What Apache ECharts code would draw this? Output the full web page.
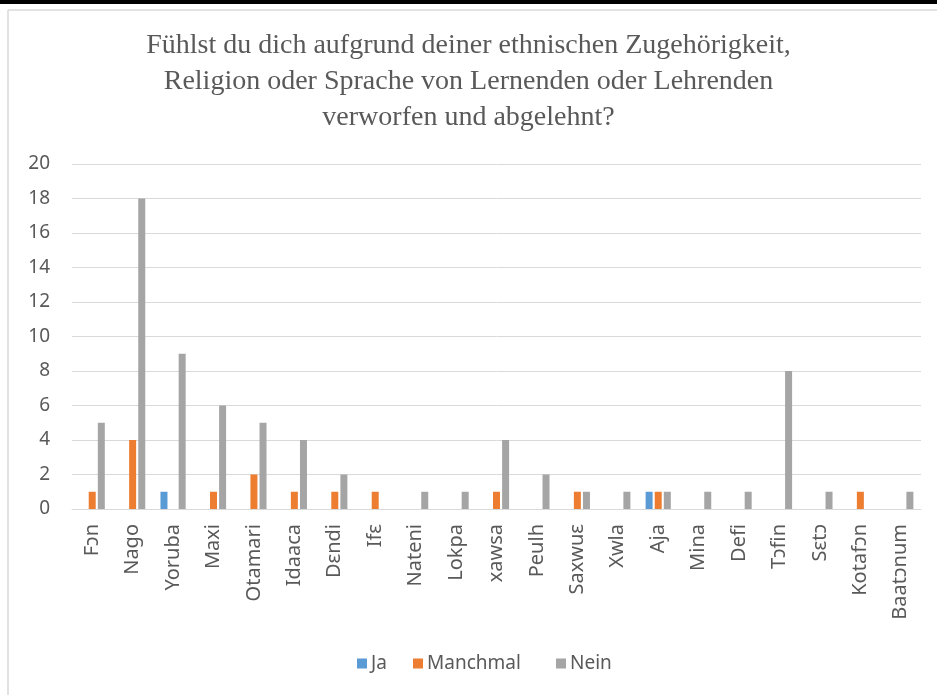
<!DOCTYPE html>
<html>
<head>
<meta charset="utf-8">
<script src="https://cdn.jsdelivr.net/npm/echarts@6/dist/echarts.min.js"></script>
<style>
  html, body { margin: 0; padding: 0; background: #fff; }
  #main { width: 937px; height: 695px; }
</style>
</head>
<body>
<div id="main"></div>
<script>
// Daten aus der Umfrage
const categories = ['Fɔn', 'Nago', 'Yoruba', 'Maxi', 'Otamari', 'Idaaca', 'Dɛndi', 'Ifɛ', 'Nateni', 'Lokpa', 'xawsa',
  'Peulh', 'Saxwuɛ', 'Xwla', 'Aja', 'Mina', 'Defi', 'Tɔfin', 'Sɛtɔ', 'Kotafɔn', 'Baatɔnum']
const jaValues = [0, 0, 1, 0, 0, 0, 0, 0, 0, 0, 0, 0, 0, 0, 1, 0, 0, 0, 0, 0, 0]
const manchmalValues = [1, 4, 0, 1, 2, 1, 1, 1, 0, 0, 1, 0, 1, 0, 1, 0, 0, 0, 0, 1, 0]
const neinValues = [5, 18, 9, 6, 5, 4, 2, 0, 1, 1, 4, 2, 1, 1, 1, 1, 1, 8, 1, 0, 1]
const yTicks = { min: 0, max: 20, interval: 2 }

const chartDom = document.getElementById('main')
const myChart = echarts.init(chartDom)
const textColor = '#595959'
const sansFont = '"Noto Sans", "Open Sans", sans-serif'

const barSeries = (name, color, data) => ({
  name: name,
  type: 'bar',
  barWidth: 7,
  barGap: '30%',
  itemStyle: { color: color },
  data: data.map(v => (v === 0 ? null : v)),
})

// eine Legende pro Eintrag, damit die Abstände wie im Original sind
const legendItem = (name, left) => ({
  data: [name],
  left: left,
  top: 649,
  itemWidth: 10,
  itemHeight: 10,
  itemGap: 0,
  icon: 'rect',
  textStyle: { color: textColor, fontSize: 19, fontFamily: sansFont, padding: [0, 0, 0, -1] },
})

const option = {
  backgroundColor: '#fff',
  animation: false,
  title: {
    text: 'Fühlst du dich aufgrund deiner ethnischen Zugehörigkeit,\nReligion oder Sprache von Lernenden oder Lehrenden\nverworfen und abgelehnt?',
    left: 'center',
    top: 23,
    textStyle: {
      fontFamily: '"Liberation Serif", "DejaVu Serif", serif',
      fontWeight: 'normal',
      fontSize: 28,
      lineHeight: 36,
      color: textColor,
    },
  },
  legend: [
    legendItem('Ja', 352),
    legendItem('Manchmal', 408),
    legendItem('Nein', 551),
  ],
  grid: {
    left: 72,
    right: 16,
    top: 164,
    bottom: 186,
    containLabel: false,
  },
  xAxis: {
    type: 'category',
    data: categories,
    axisTick: { show: false },
    axisLine: { lineStyle: { color: '#d9d9d9', width: 1 } },
    axisLabel: {
      interval: 0,
      rotate: 90,
      margin: 15,
      color: textColor,
      fontSize: 20,
      fontFamily: sansFont,
    },
  },
  yAxis: {
    type: 'value',
    min: yTicks.min,
    max: yTicks.max,
    interval: yTicks.interval,
    axisLine: { show: false },
    axisTick: { show: false },
    splitLine: { lineStyle: { color: '#d9d9d9', width: 1 } },
    axisLabel: {
      margin: 22,
      color: textColor,
      fontSize: 19,
      fontFamily: sansFont,
    },
  },
  graphic: [
    // schwarzer Streifen oben
    { type: 'rect', left: 0, top: 0, shape: { width: 937, height: 4 }, style: { fill: '#000' } },
    // Rahmen des Diagramms
    { type: 'line', shape: { x1: 8, y1: 10, x2: 937, y2: 10 }, style: { stroke: '#d9d9d9', lineWidth: 1.5 } },
    { type: 'line', shape: { x1: 8, y1: 10, x2: 8, y2: 695 }, style: { stroke: '#d9d9d9', lineWidth: 1.5 } },
  ],
  series: [
    barSeries('Ja', '#5B9BD5', jaValues),
    barSeries('Manchmal', '#ED7D31', manchmalValues),
    barSeries('Nein', '#A5A5A5', neinValues),
  ],
}
option && myChart.setOption(option)
</script>
</body>
</html>
